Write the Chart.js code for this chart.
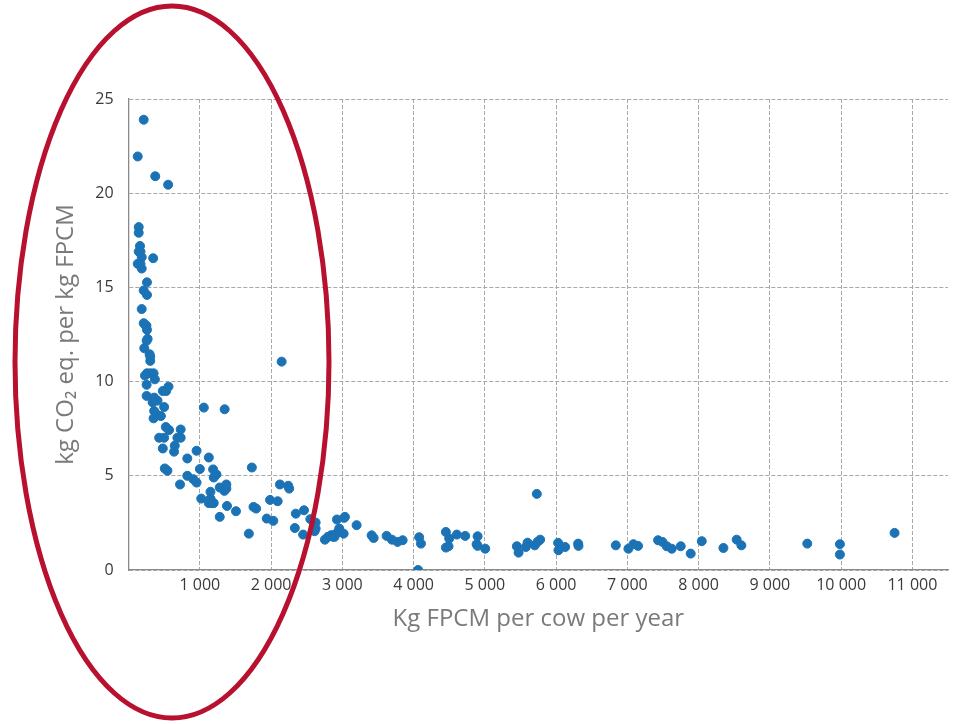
<!DOCTYPE html>
<html>
<head>
<meta charset="utf-8">
<script src="https://cdn.jsdelivr.net/npm/chart.js@4/dist/chart.umd.min.js"></script>
<style>
  html,body{margin:0;padding:0;background:#fff;}
  #wrap{width:955px;height:724px;}
</style>
</head>
<body>
<div id="wrap"><canvas id="chart" width="955" height="724"></canvas></div>
<script>
/* ---------- DATA ---------- */
// kg FPCM per cow per year
const milkYield = [
  212,128,374,555,142,142,160,142,167,184,345,128,167,184,258,212,258,184,212,240,
  250,258,267,253,220,295,304,304,258,304,351,369,230,253,480,527,560,253,359,406,
  337,499,359,406,453,351,1056,1348,522,568,731,429,499,685,731,648,480,638,954,824,
  1126,508,545,1000,1186,1233,824,908,954,1195,722,1372,1279,1372,1344,1730,2124,2240,2254,2148,
  1019,1149,1149,1172,1126,1195,1381,1507,1279,1753,1790,1985,2092,1939,2031,1688,2347,2462,2333,2449,
  2551,2625,2625,2611,2755,2797,2844,2890,2914,2950,3018,2924,3036,2956,2870,3200,3027,3411,3439,3621,
  3696,3775,3846,4078,4103,4064,4453,4499,4453,4490,4607,4724,4898,4884,4898,5005,5449,5473,5575,5599,
  5701,5739,5776,5729,6028,6033,6127,6309,6314,6838,7015,7085,7150,7431,7492,7553,7623,7749,7889,8044,
  8348,8534,8600,9525,9983,9983,10750
];
// kg CO2 eq. per kg FPCM
const emissions = [
  23.9,21.95,20.9,20.45,18.2,17.9,17.2,16.9,16.9,16.6,16.55,16.25,16.25,16.0,15.27,14.84,14.6,13.85,13.1,12.97,
  12.97,12.75,12.27,12.17,11.77,11.45,11.33,11.1,10.44,10.44,10.44,10.12,10.32,9.83,9.5,9.5,9.73,9.24,9.15,8.99,
  8.9,8.65,8.44,8.23,8.17,8.05,8.62,8.53,7.59,7.43,7.46,7.02,7.02,7.02,7.02,6.6,6.45,6.28,6.33,5.92,
  5.97,5.39,5.27,5.36,5.34,5.07,5.0,4.82,4.64,4.91,4.54,4.54,4.38,4.32,4.2,5.44,4.54,4.47,4.32,11.06,
  3.79,4.15,3.79,3.55,3.55,3.55,3.4,3.12,2.82,3.35,3.26,3.72,3.65,2.73,2.61,1.93,2.99,3.17,2.23,1.88,
  2.7,2.52,2.2,2.06,1.61,1.76,1.85,1.76,1.93,2.06,1.93,2.68,2.82,2.2,1.76,2.38,2.77,1.84,1.7,1.81,
  1.61,1.49,1.58,1.74,1.4,0,2.02,1.67,1.19,1.26,1.88,1.81,1.79,1.37,1.28,1.13,1.26,0.92,1.22,1.45,
  1.31,1.49,1.61,4.04,1.44,1.05,1.22,1.4,1.28,1.31,1.13,1.37,1.28,1.58,1.49,1.26,1.13,1.26,0.87,1.53,
  1.17,1.61,1.31,1.4,1.37,0.82,1.97
];

const xTicks = [0,1000,2000,3000,4000,5000,6000,7000,8000,9000,10000,11000];
const yTicks = [0,5,10,15,20,25];

const xTitle = "Kg FPCM per cow per year";
const yTitle = "kg CO\u2082 eq. per kg FPCM";

/* ---------- HELPERS ---------- */
function fmt(v){
  if(v===0) return "";
  return String(v).replace(/\B(?=(\d{3})+(?!\d))/g," ");
}

// red ring drawn over the low-yield part of the plot
const ringPlugin = {
  id:"ring",
  afterDraw(chart){
    const c = chart.ctx;
    c.save();
    c.beginPath();
    c.ellipse(172,362,157,356,0,0,Math.PI*2);
    c.lineWidth = 5;
    c.strokeStyle = "#b8102f";
    c.stroke();
    c.restore();
  }
};

/* ---------- CHART ---------- */
Chart.defaults.font.family = "'Open Sans', 'DejaVu Sans', sans-serif";

new Chart(document.getElementById("chart"),{
  type:"scatter",
  data:{
    datasets:[{
      data:milkYield.map((x,i)=>({x, y:emissions[i]})),
      backgroundColor:"#1b73b6",
      borderColor:"#1b73b6",
      pointRadius:4.5,
      pointHoverRadius:4.5
    }]
  },
  options:{
    responsive:false,
    animation:false,
    layout:{padding:{left:51.5,top:99,right:7,bottom:86}},
    plugins:{legend:{display:false},tooltip:{enabled:false}},
    scales:{
      x:{
        type:"linear",
        min:0,max:11500,
        bounds:"data",
        afterBuildTicks:s=>{ s.ticks = xTicks.map(v=>({value:v})); },
        ticks:{
          includeBounds:false,
          autoSkip:false,
          maxRotation:0,
          padding:6,
          color:"#3a3a3a",
          font:{size:16},
          callback:v=>fmt(v)
        },
        grid:{color:"#a8a8a8",drawTicks:false},
        border:{display:true,color:"#8a8a8a",width:1.3,dash:[4,2]},
        title:{display:true,text:xTitle,color:"#7a7a7a",font:{size:24},padding:{top:4}}
      },
      y:{
        min:0,max:25,
        afterBuildTicks:s=>{ s.ticks = yTicks.map(v=>({value:v})); },
        ticks:{
          padding:15,
          color:"#3a3a3a",
          font:{size:16}
        },
        grid:{color:"#a8a8a8",drawTicks:false},
        border:{display:true,color:"#8a8a8a",width:1.3,dash:[4,2]},
        title:{display:true,text:yTitle,color:"#7a7a7a",font:{size:24},padding:0}
      }
    }
  },
  plugins:[ringPlugin]
});
</script>
</body>
</html>
